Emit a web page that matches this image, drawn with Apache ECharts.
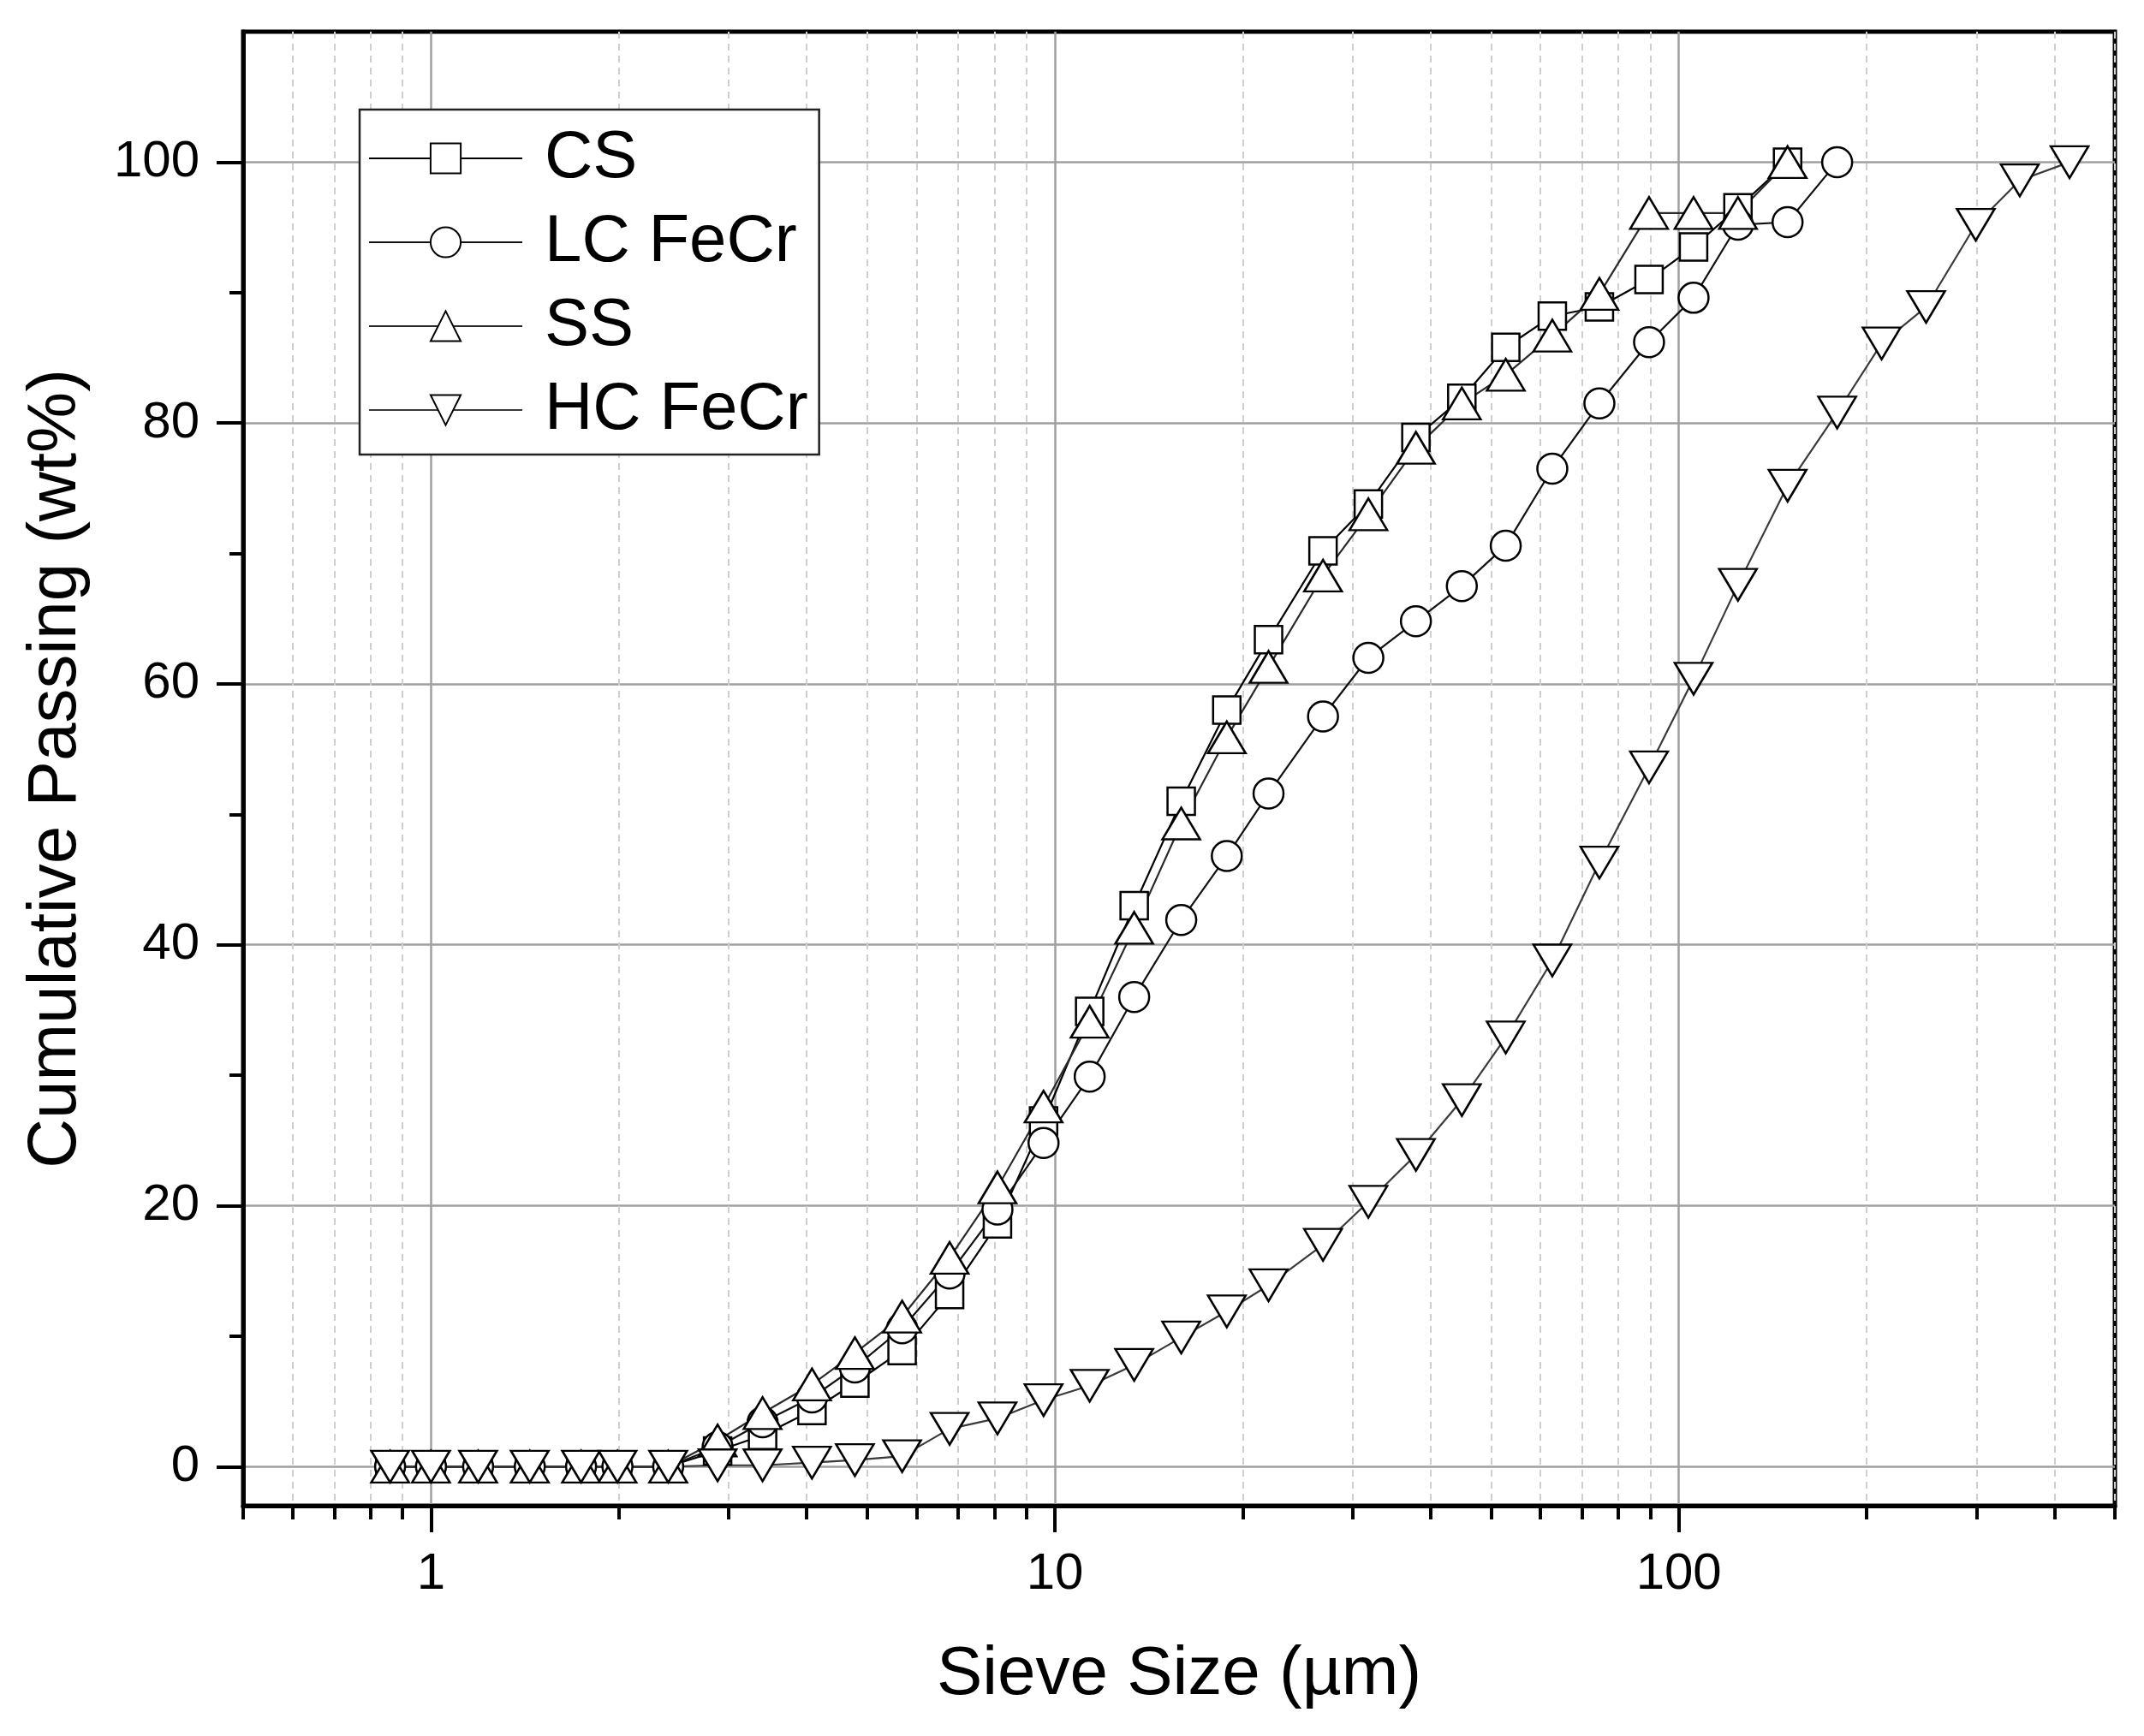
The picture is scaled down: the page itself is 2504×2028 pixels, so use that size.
<!DOCTYPE html>
<html>
<head>
<meta charset="utf-8">
<script src="https://cdn.jsdelivr.net/npm/echarts@6/dist/echarts.min.js"></script>
<style>
  html, body { margin: 0; background: #fff; }
  #chart { width: 2504px; height: 2028px; }
</style>
</head>
<body>
<div id="chart"></div>
<script>
// sieve sizes (µm), shared by all four samples
var sizes = [0.86, 1.0, 1.19, 1.44, 1.74, 1.99, 2.4, 2.88, 3.4, 4.08, 4.78, 5.69, 6.78, 8.09, 9.59,
  11.37, 13.4, 15.94, 18.86, 22.0, 26.9, 31.8, 37.9, 44.9, 52.8, 62.7, 74.6, 89.6, 105.6, 124.4,
  149.4, 179.4, 211.4, 249.1, 299.2, 352, 423];

// cumulative passing (wt%)
var csPassing = [0, 0, 0, 0, 0, 0, 0, 1.2, 2.4, 4.3, 6.4, 8.9, 13.2, 18.6, 26.5, 34.9, 43.0, 51.0,
  58.0, 63.4, 70.2, 73.8, 78.9, 81.9, 85.8, 88.2, 88.9, 91.0, 93.5, 96.5, 100];
var lcPassing = [0, 0, 0, 0, 0, 0, 0, 1.5, 3.4, 5.3, 7.6, 10.6, 14.8, 19.7, 24.8, 29.9, 36.0, 41.9,
  46.8, 51.6, 57.5, 62.0, 64.8, 67.5, 70.6, 76.5, 81.5, 86.2, 89.6, 95.2, 95.4, 100];
var ssPassing = [0, 0, 0, 0, 0, 0, 0, 2.0, 4.1, 6.3, 8.7, 11.5, 16.0, 21.4, 27.6, 34.1, 41.3, 49.3,
  55.9, 61.3, 68.3, 73.0, 78.1, 81.5, 83.7, 86.7, 89.9, 96.1, 96.1, 96.1, 100];
var hcPassing = [0, 0, 0, 0, 0, 0, 0, 0.1, 0.1, 0.3, 0.5, 0.8, 2.9, 3.7, 5.1, 6.2, 7.8, 9.9, 11.9,
  13.9, 17.0, 20.3, 23.9, 28.1, 32.9, 38.8, 46.3, 53.6, 60.4, 67.6, 75.2, 80.8, 86.1, 88.9, 95.2,
  98.6, 100];

var seriesNames = ['CS', 'LC FeCr', 'SS', 'HC FeCr'];

// axis ticks
var xMajorTicks = [1, 10, 100];
var xMinorTicks = [0.5, 0.6, 0.7, 0.8, 0.9, 2, 3, 4, 5, 6, 7, 8, 9, 20, 30, 40, 50, 60, 70, 80, 90,
  200, 300, 400, 500];
var yMajorTicks = [0, 20, 40, 60, 80, 100];
var yMinorTicks = [10, 30, 50, 70, 90];

var font = "'Liberation Sans', Arial, sans-serif";

var chart = echarts.init(document.getElementById('chart'));

function pairs(values) {
  return values.map(function (v, i) { return [sizes[i], v]; });
}

function makeSeries(name, values, symbol, size, rotate, lineColor) {
  return {
    name: name,
    type: 'line',
    xAxisIndex: 0,
    yAxisIndex: 0,
    data: pairs(values),
    symbol: symbol,
    symbolSize: size,
    symbolRotate: rotate,
    itemStyle: { color: '#fff', borderColor: '#000', borderWidth: 2.5 },
    lineStyle: { color: lineColor, width: 2.2 },
    emphasis: { disabled: true },
    silent: true,
    clip: false
  };
}

var option = {
  animation: false,
  backgroundColor: '#fff',
  grid: {
    left: 284,
    top: 37,
    width: 2186,
    height: 1722,
    show: true,
    borderColor: '#000',
    borderWidth: 5,
    backgroundColor: 'transparent'
  },
  legend: {
    data: seriesNames,
    orient: 'vertical',
    left: 420,
    top: 128,
    padding: [18, 13, 13, 10],
    itemGap: 20,
    itemWidth: 179,
    itemHeight: 44,
    backgroundColor: '#fff',
    borderColor: '#222',
    borderWidth: 2.5,
    borderRadius: 0,
    textStyle: {
      fontSize: 78,
      lineHeight: 78,
      color: '#000',
      fontFamily: font,
      padding: [0, 0, 0, 21]
    }
  },
  xAxis: [
    {
      type: 'log',
      logBase: 10,
      min: 0.5,
      max: 500,
      position: 'bottom',
      name: 'Sieve Size (µm)',
      nameLocation: 'middle',
      nameGap: 158,
      nameTextStyle: { fontSize: 80, color: '#000', fontFamily: font },
      axisLine: { show: true, onZero: false, lineStyle: { color: '#000', width: 5 } },
      axisTick: { show: true, customValues: xMajorTicks, length: 31, lineStyle: { color: '#000', width: 4 } },
      axisLabel: { customValues: xMajorTicks, fontSize: 60, margin: 50, color: '#000', fontFamily: font },
      splitLine: { show: true, lineStyle: { color: '#a0a0a0', width: 2.5 } },
      minorTick: { show: false },
      minorSplitLine: { show: false }
    },
    {
      type: 'log',
      logBase: 10,
      min: 0.5,
      max: 500,
      position: 'bottom',
      axisLine: { show: false, onZero: false },
      axisTick: { show: true, customValues: xMinorTicks, length: 16, lineStyle: { color: '#000', width: 4 } },
      axisLabel: { show: false },
      splitLine: { show: true, lineStyle: { color: '#cfcfcf', width: 2, type: [8, 6] } }
    }
  ],
  yAxis: [
    {
      type: 'value',
      min: -3,
      max: 110,
      position: 'left',
      name: 'Cumulative Passing (wt%)',
      nameLocation: 'middle',
      nameGap: 178,
      nameTextStyle: { fontSize: 80, color: '#000', fontFamily: font },
      axisLine: { show: true, onZero: false, lineStyle: { color: '#000', width: 5 } },
      axisTick: { show: true, customValues: yMajorTicks, length: 31, lineStyle: { color: '#000', width: 4 } },
      axisLabel: { customValues: yMajorTicks, fontSize: 60, margin: 51, color: '#000', fontFamily: font },
      splitLine: { show: true, lineStyle: { color: '#a0a0a0', width: 2.5 } }
    },
    {
      type: 'value',
      min: -3,
      max: 110,
      position: 'left',
      axisLine: { show: false, onZero: false },
      axisTick: { show: true, customValues: yMinorTicks, length: 16, lineStyle: { color: '#000', width: 4 } },
      axisLabel: { show: false },
      splitLine: { show: false }
    }
  ],
  series: [
    makeSeries(seriesNames[0], csPassing, 'rect', 32, 0, '#000'),
    makeSeries(seriesNames[1], lcPassing, 'circle', 35, 0, '#111'),
    makeSeries(seriesNames[2], ssPassing, 'triangle', [44, 37], 0, '#2a2a2a'),
    makeSeries(seriesNames[3], hcPassing, 'triangle', [44, 37], 180, '#3a3a3a')
  ]
};

chart.setOption(option);
</script>
</body>
</html>
